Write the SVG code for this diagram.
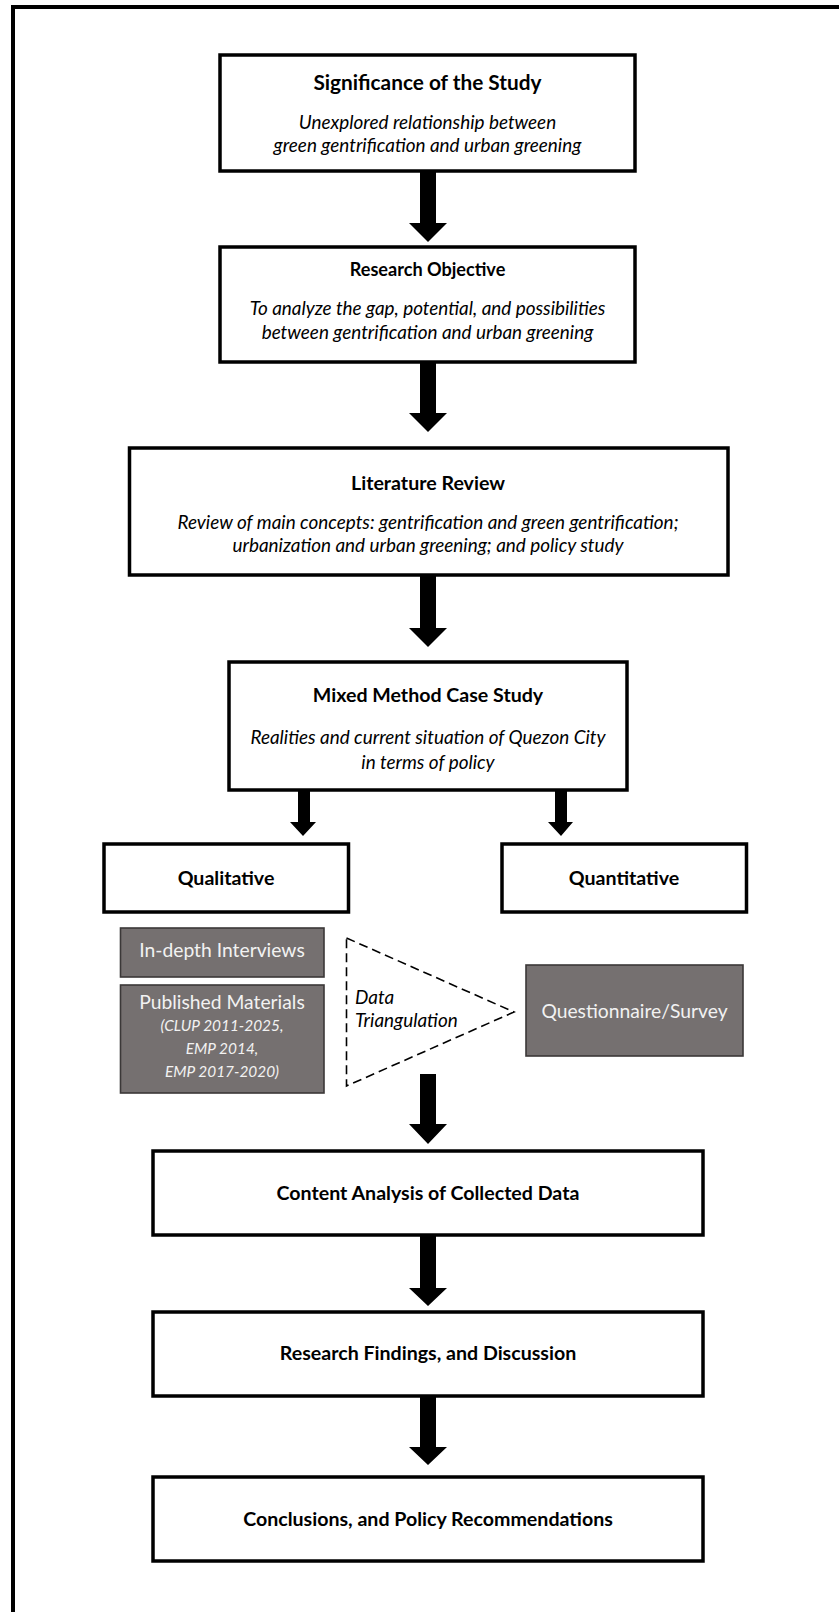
<svg xmlns="http://www.w3.org/2000/svg" width="839" height="1612" viewBox="0 0 839 1612">
<style>
.box{fill:#fff;stroke:#000;stroke-width:3.5}
.gbox{fill:#757070;stroke:#3b3838;stroke-width:1.6}
.t{font-family:Lato,"Open Sans","Liberation Sans",sans-serif;font-weight:bold;font-size:19.6px;fill:#000;text-anchor:middle}
.i{font-family:Lato,"Open Sans","Liberation Sans",sans-serif;font-style:italic;font-size:18.9px;fill:#000;text-anchor:middle}
.w{font-family:Lato,"Open Sans","Liberation Sans",sans-serif;font-size:19.3px;fill:#f2f2f2;text-anchor:middle}
.wi{font-family:Lato,"Open Sans","Liberation Sans",sans-serif;font-style:italic;font-size:15.4px;fill:#f2f2f2;text-anchor:middle}
.arr{fill:#000}
</style>
<rect x="13" y="7" width="840" height="1620" fill="none" stroke="#000" stroke-width="4"/>
<g id="n1">
<rect class="box" x="220" y="55" width="415" height="116"/>
<text class="t" x="427.5" y="90" style="font-size:20.8px">Significance of the Study</text>
<text class="i" x="427.5" y="129">Unexplored relationship between</text>
<text class="i" x="427.5" y="152">green gentrification and urban greening</text>
</g>
<g id="n2">
<rect class="box" x="220" y="247" width="415" height="115"/>
<text class="t" x="427.5" y="276" style="font-size:18.1px">Research Objective</text>
<text class="i" x="427.5" y="315">To analyze the gap, potential, and possibilities</text>
<text class="i" x="427.5" y="339">between gentrification and urban greening</text>
</g>
<g id="n3">
<rect class="box" x="129.5" y="448" width="598.5" height="127"/>
<text class="t" x="428" y="489.5">Literature Review</text>
<text class="i" x="428" y="529">Review of main concepts: gentrification and green gentrification;</text>
<text class="i" x="428" y="552">urbanization and urban greening; and policy study</text>
</g>
<g id="n4">
<rect class="box" x="229" y="662" width="398" height="128"/>
<text class="t" x="428" y="701.5">Mixed Method Case Study</text>
<text class="i" x="428" y="744">Realities and current situation of Quezon City</text>
<text class="i" x="428" y="769">in terms of policy</text>
</g>
<g id="n5">
<rect class="box" x="104" y="844" width="244.5" height="68"/>
<text class="t" x="226" y="884.5">Qualitative</text>
</g>
<g id="n6">
<rect class="box" x="502" y="844" width="244.5" height="68"/>
<text class="t" x="624" y="884.5">Quantitative</text>
</g>
<g id="n7">
<rect class="gbox" x="120.5" y="928" width="203.5" height="49"/>
<text class="w" x="222" y="957">In-depth Interviews</text>
</g>
<g id="n8">
<rect class="gbox" x="120.5" y="985" width="203.5" height="108"/>
<text class="w" x="222" y="1009">Published Materials</text>
<text class="wi" x="222" y="1031">(CLUP 2011-2025,</text>
<text class="wi" x="222" y="1054">EMP 2014,</text>
<text class="wi" x="222" y="1077">EMP 2017-2020)</text>
</g>
<g id="n9">
<rect class="gbox" x="526" y="965" width="217" height="91"/>
<text class="w" x="634.5" y="1018">Questionnaire/Survey</text>
</g>
<g id="n10">
<polygon points="346.5,938 514,1012 346.5,1086" fill="none" stroke="#000" stroke-width="1.6" stroke-dasharray="9,5"/>
<text class="i" x="355" y="1004" style="text-anchor:start">Data</text>
<text class="i" x="355" y="1027" style="text-anchor:start">Triangulation</text>
</g>
<g id="n11">
<rect class="box" x="153" y="1151" width="550" height="84"/>
<text class="t" x="428" y="1199.5">Content Analysis of Collected Data</text>
</g>
<g id="n12">
<rect class="box" x="153" y="1312" width="550" height="84"/>
<text class="t" x="428" y="1359.5">Research Findings, and Discussion</text>
</g>
<g id="n13">
<rect class="box" x="153" y="1477" width="550" height="84"/>
<text class="t" x="428" y="1525.5">Conclusions, and Policy Recommendations</text>
</g>
<g id="connectors">
<polygon class="arr" points="420,172 436,172 436,223 447,223 428,242 409,223 420,223"/>
<polygon class="arr" points="420,363 436,363 436,413 447,413 428,432 409,413 420,413"/>
<polygon class="arr" points="420,576 436,576 436,628 447,628 428,647 409,628 420,628"/>
<polygon class="arr" points="298,791 310,791 310,822 316,822 303,836 290,822 298,822"/>
<polygon class="arr" points="555,791 567,791 567,822 573,822 561,836 548,822 555,822"/>
<polygon class="arr" points="420,1074 436,1074 436,1124 447,1124 428,1144 409,1124 420,1124"/>
<polygon class="arr" points="420,1236 436,1236 436,1288 447,1288 428,1306 409,1288 420,1288"/>
<polygon class="arr" points="420,1397 436,1397 436,1447 447,1447 428,1465 409,1447 420,1447"/>
</g>
</svg>
